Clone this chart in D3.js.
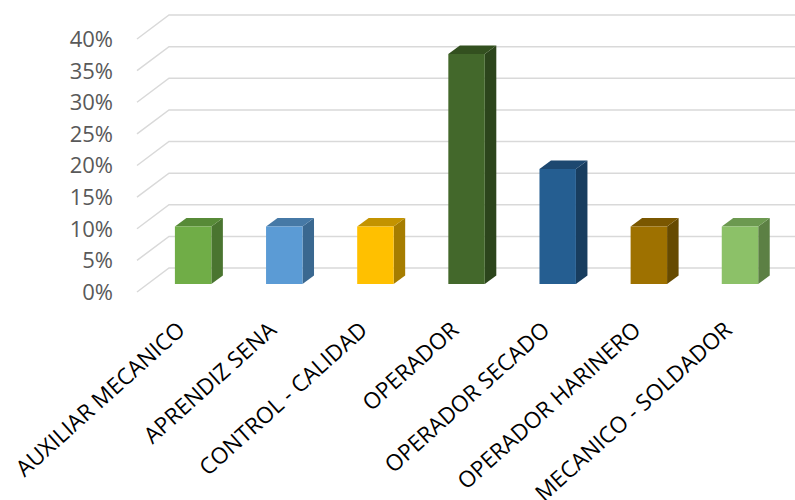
<!DOCTYPE html>
<html>
<head>
<meta charset="utf-8">
<script src="https://cdn.jsdelivr.net/npm/d3@7"></script>
<style>
  body { margin: 0; background: #fff; }
  text { font-family: "Open Sans", sans-serif; }
</style>
</head>
<body>
<script>
// data
var categories = ['AUXILIAR MECANICO', 'APRENDIZ SENA', 'CONTROL - CALIDAD', 'OPERADOR',
	'OPERADOR SECADO', 'OPERADOR HARINERO', 'MECANICO - SOLDADOR'];
var values = [0.0909, 0.0909, 0.0909, 0.3636, 0.1818, 0.0909, 0.0909];
var ticks = [0, 0.05, 0.10, 0.15, 0.20, 0.25, 0.30, 0.35, 0.40];
// front, side, top colours for each bar
var fronts = ['#70AD47', '#5B9BD5', '#FFC000', '#43682B', '#255E91', '#9E7100', '#8CC168'];
var sides  = ['#4A7530', '#3A6890', '#A67D00', '#2C451C', '#183D5F', '#664A00', '#5C8044'];
var tops   = ['#578A37', '#4679A6', '#C39300', '#33501F', '#1D4870', '#7A5700', '#6C9950'];

var svg = d3.select('body')
	.append('svg')
	.attr('width', 795)
	.attr('height', 500);

// front plane scales + depth offset
var x = d3.scaleBand()
	.domain(categories)
	.range([137, 775]);
var y = d3.scaleLinear()
	.domain([0, 0.40])
	.range([292, 39]);
var depthX = 32, depthY = 24;

var proj = function(px, v, z) {
	return [px + depthX * z, y(v) - depthY * z];
};

// gridlines: left wall diagonal + back wall horizontal
var grid = svg.append('g');
ticks.forEach(function(t) {
	var a = proj(x.range()[0], t, 0),
		b = proj(x.range()[0], t, 1),
		c = proj(x.range()[1], t, 1);
	grid.append('polyline')
		.attr('points', [a, b, c].map(function(p) { return p.join(','); }).join(' '))
		.style('fill', 'none')
		.style('stroke', '#d9d9d9')
		.style('stroke-width', 1.5);
});

// y labels
svg.selectAll('.ylab')
	.data(ticks)
	.enter()
	.append('text')
	.classed('ylab', true)
	.attr('x', 113)
	.attr('y', function(d) { return y(d); })
	.attr('dy', '0.36em')
	.style('text-anchor', 'end')
	.style('font-size', '22px')
	.style('fill', '#595959')
	.text(d3.format('.0%'));

// bars
var z1 = 0.33, z2 = 0.69;
var barW = x.bandwidth() * 0.4;
var pts = function(arr) { return arr.map(function(p) { return p.join(','); }).join(' '); };

var bars = svg.selectAll('.bar')
	.data(values)
	.enter()
	.append('g')
	.classed('bar', true);

bars.each(function(d, i) {
	var g = d3.select(this);
	var x0 = x(categories[i]) + (x.bandwidth() - barW) / 2,
		x1 = x0 + barW;
	var fl = proj(x0, 0, z1), fr = proj(x1, 0, z1),
		tl = proj(x0, d, z1), tr = proj(x1, d, z1),
		btr = proj(x1, d, z2), btl = proj(x0, d, z2), bbr = proj(x1, 0, z2);
	g.append('polygon')
		.attr('points', pts([fr, tr, btr, bbr]))
		.style('fill', sides[i]);
	g.append('polygon')
		.attr('points', pts([tl, tr, btr, btl]))
		.style('fill', tops[i]);
	g.append('polygon')
		.attr('points', pts([fl, fr, tr, tl]))
		.style('fill', fronts[i]);
});

// category labels
svg.selectAll('.xlab')
	.data(categories)
	.enter()
	.append('text')
	.classed('xlab', true)
	.attr('transform', function(d) {
		return 'translate(' + (x(d) + x.bandwidth() / 2 + 4) + ',332) rotate(-42)';
	})
	.style('text-anchor', 'end')
	.style('font-size', '22.5px')
	.style('fill', '#000')
	.text(function(d) { return d; });
</script>
</body>
</html>
